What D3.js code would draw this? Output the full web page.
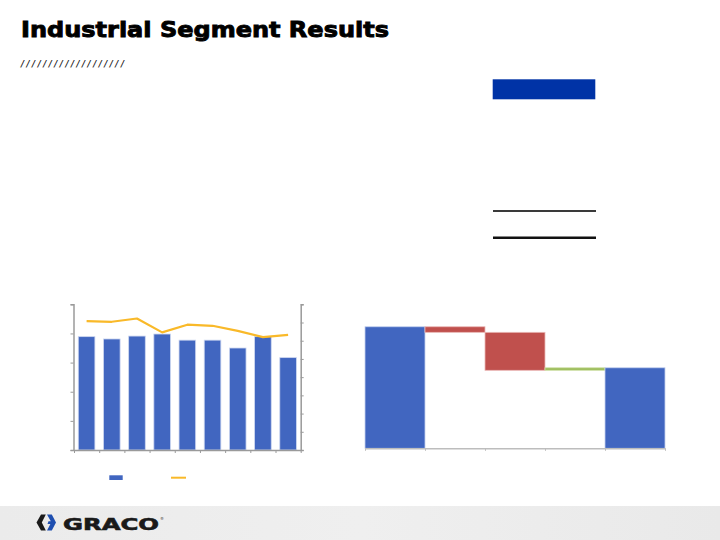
<!DOCTYPE html>
<html>
<head>
<meta charset="utf-8">
<script src="https://cdn.jsdelivr.net/npm/d3@7"></script>
<style>
html,body{margin:0;padding:0;background:#fff;}
svg{display:block;}
</style>
</head>
<body>
<svg id="c" width="720" height="540"></svg>
<script>
// ---- Data ----
const title = "Industrial Segment Results";
const periods = ["P1","P2","P3","P4","P5","P6","P7","P8","P9"];
const salesValues = [194.5, 190.5, 195.5, 199, 188.5, 188.5, 175, 194.5, 158.5];
const marginValues = [35.4, 35.2, 36.1, 32.3, 34.4, 34.1, 32.7, 31.0, 31.6];
const leftTicks = [0, 50, 100, 150, 200, 250];
const rightTicks = [0, 5, 10, 15, 20, 25, 30, 35, 40];

const bridgeSteps = ["Start", "Step 1", "Step 2", "Step 3", "End"];
const bridgeValues = [120, -5.5, -37.5, 2.5, 79.5];
const bridgeTypes = ["total", "delta", "delta", "delta", "total"];

// ---- Setup ----
const svg = d3.select("#c");
const BLUE = "#4166C0", ORANGE = "#F9B929", RED = "#C0504D", GREEN = "#9BBB59";

// footer band
const footGrad = svg.append("defs").append("linearGradient").attr("id","fg").attr("x1",0).attr("x2",1);
footGrad.append("stop").attr("offset","0%").attr("stop-color","#ebebeb");
footGrad.append("stop").attr("offset","50%").attr("stop-color","#efefef");
footGrad.append("stop").attr("offset","100%").attr("stop-color","#e9e9e9");
svg.append("rect").attr("x",0).attr("y",506).attr("width",720).attr("height",34).attr("fill","url(#fg)");

// title
svg.append("text").attr("x",21).attr("y",37)
  .attr("font-family","DejaVu Sans").attr("font-weight","bold").attr("font-size",21.5)
  .attr("textLength",368).attr("lengthAdjust","spacingAndGlyphs")
  .attr("fill","#000").attr("stroke","#000").attr("stroke-width",0.9)
  .text(title);
svg.append("text").attr("x",21).attr("y",67)
  .attr("font-family","DejaVu Sans").attr("font-weight","bold").attr("font-style","italic").attr("font-size",8.5)
  .attr("textLength",103).attr("lengthAdjust","spacing")
  .attr("fill","#1a1a1a").text("///////////////////");

// top right table decoration
svg.append("rect").attr("x",492.7).attr("y",79.3).attr("width",102.6).attr("height",20).attr("fill","#0033A6");
svg.append("line").attr("x1",493).attr("x2",596).attr("y1",211).attr("y2",211).attr("stroke","#3a3a3a").attr("stroke-width",2);
svg.append("line").attr("x1",493).attr("x2",596).attr("y1",237.8).attr("y2",237.8).attr("stroke","#111").attr("stroke-width",2.6);

// ---- Left combo chart ----
const L = {x0:74, x1:300.7, y0:450, y1:304.3};
const xb = d3.scaleBand().domain(periods).range([L.x0, L.x1]).paddingInner(0.34).paddingOuter(0.17);
const yl = d3.scaleLinear().domain([0, 250]).range([L.y0, L.y1]);
const yr = d3.scaleLinear().domain([0, 40]).range([L.y0, L.y1]);
const xt = d3.scaleLinear().domain([0, periods.length]).range([L.x0, L.x1]);

const left = svg.append("g");
left.selectAll("rect.bar").data(salesValues).join("rect").attr("class","bar")
  .attr("x",(d,i)=>xb(periods[i])).attr("width",xb.bandwidth())
  .attr("y",d=>yl(d)).attr("height",d=>yl(0)-yl(d))
  .attr("fill",BLUE).attr("stroke","#cdd7f0").attr("stroke-width",0.8);

const line = d3.line().x((d,i)=>xb(periods[i])+xb.bandwidth()/2).y(d=>yr(d));
left.append("path").datum(marginValues).attr("d",line).attr("fill","none")
  .attr("stroke",ORANGE).attr("stroke-width",2.2).attr("stroke-linejoin","round");

function styleAxis(g){
  g.selectAll("path.domain").attr("stroke","#9a9a9a").attr("stroke-width",1.5);
  g.selectAll(".tick line").attr("stroke","#9a9a9a").attr("stroke-width",1);
  g.selectAll("text").remove();
}
left.append("g").attr("transform",`translate(${L.x0-0.5},0)`)
  .call(d3.axisLeft(yl).tickValues(leftTicks).tickSize(3).tickSizeOuter(3).tickFormat("")).call(styleAxis);
left.append("g").attr("transform",`translate(${L.x1},0)`)
  .call(d3.axisRight(yr).tickValues(rightTicks).tickSize(3).tickSizeOuter(3).tickFormat("")).call(styleAxis);
left.append("g").attr("transform",`translate(0,${L.y0})`)
  .call(d3.axisBottom(xt).tickValues(d3.range(periods.length+1)).tickSize(3).tickSizeOuter(0).tickFormat("")).call(styleAxis);

// legend
svg.append("rect").attr("x",109.3).attr("y",475.3).attr("width",13.4).attr("height",4.7).attr("fill",BLUE);
svg.append("line").attr("x1",171).attr("x2",186).attr("y1",477.7).attr("y2",477.7).attr("stroke",ORANGE).attr("stroke-width",2);

// ---- Waterfall ----
const W = {x0:365, x1:665, y0:448.3, y1:306.5};
const xw = d3.scaleBand().domain(bridgeSteps).range([W.x0, W.x1]).padding(0);
const yw = d3.scaleLinear().domain([0, 140]).range([W.y0, W.y1]);
let run = 0;
const wf = bridgeValues.map((v,i)=>{
  let lo, hi;
  if (bridgeTypes[i]==="total"){ lo=0; hi=v; run=v; }
  else { const s=run; run=run+v; lo=Math.min(s,run); hi=Math.max(s,run); }
  return {step:bridgeSteps[i], v, lo, hi, type:bridgeTypes[i]};
});
const wg = svg.append("g");
wg.selectAll("rect").data(wf).join("rect")
  .attr("x",d=>xw(d.step)).attr("width",xw.bandwidth())
  .attr("y",d=>yw(d.hi)).attr("height",d=>yw(d.lo)-yw(d.hi))
  .attr("fill",d=>d.type==="total"?BLUE:(d.v<0?RED:GREEN))
  .attr("stroke",d=>d.type==="total"?"#c3cfee":(d.v<0?"#eab8b6":"#cfe0a8"))
  .attr("stroke-width",0.8);
const xwt = d3.scaleLinear().domain([0, bridgeSteps.length]).range([W.x0, W.x1]);
wg.append("g").attr("transform",`translate(0,${W.y0})`)
  .call(d3.axisBottom(xwt).tickValues(d3.range(bridgeSteps.length+1)).tickSize(2.5).tickSizeOuter(0).tickFormat(""))
  .call(g=>{
    g.selectAll("path.domain").attr("stroke","#bdbdbd").attr("stroke-width",1.5);
    g.selectAll(".tick line").attr("stroke","#bdbdbd").attr("stroke-width",1);
    g.selectAll("text").remove();
  });

// ---- Footer logo ----
const logo = svg.append("g");
logo.append("path").attr("d","M41,514.5 L45.8,514.5 L41.8,522.5 L45.8,530.5 L41,530.5 L36.5,522.5 Z").attr("fill","#1a1a1a");
logo.append("path").attr("d","M47,514.5 L51.8,514.5 L56,522.5 L51.8,530.5 L47,530.5 L50.4,524 L47.5,524 L48.5,521.3 L50.8,521.3 Z").attr("fill","#1f4fb0");
logo.append("text").attr("x",63).attr("y",530)
  .attr("font-family","DejaVu Sans").attr("font-weight","bold").attr("font-size",16)
  .attr("textLength",96).attr("lengthAdjust","spacingAndGlyphs")
  .attr("fill","#1a1a1a").attr("stroke","#1a1a1a").attr("stroke-width",0.6).text("GRACO");
logo.append("text").attr("x",160).attr("y",520).attr("font-family","DejaVu Sans").attr("font-size",4).attr("fill","#333").text("®");
</script>
</body>
</html>
